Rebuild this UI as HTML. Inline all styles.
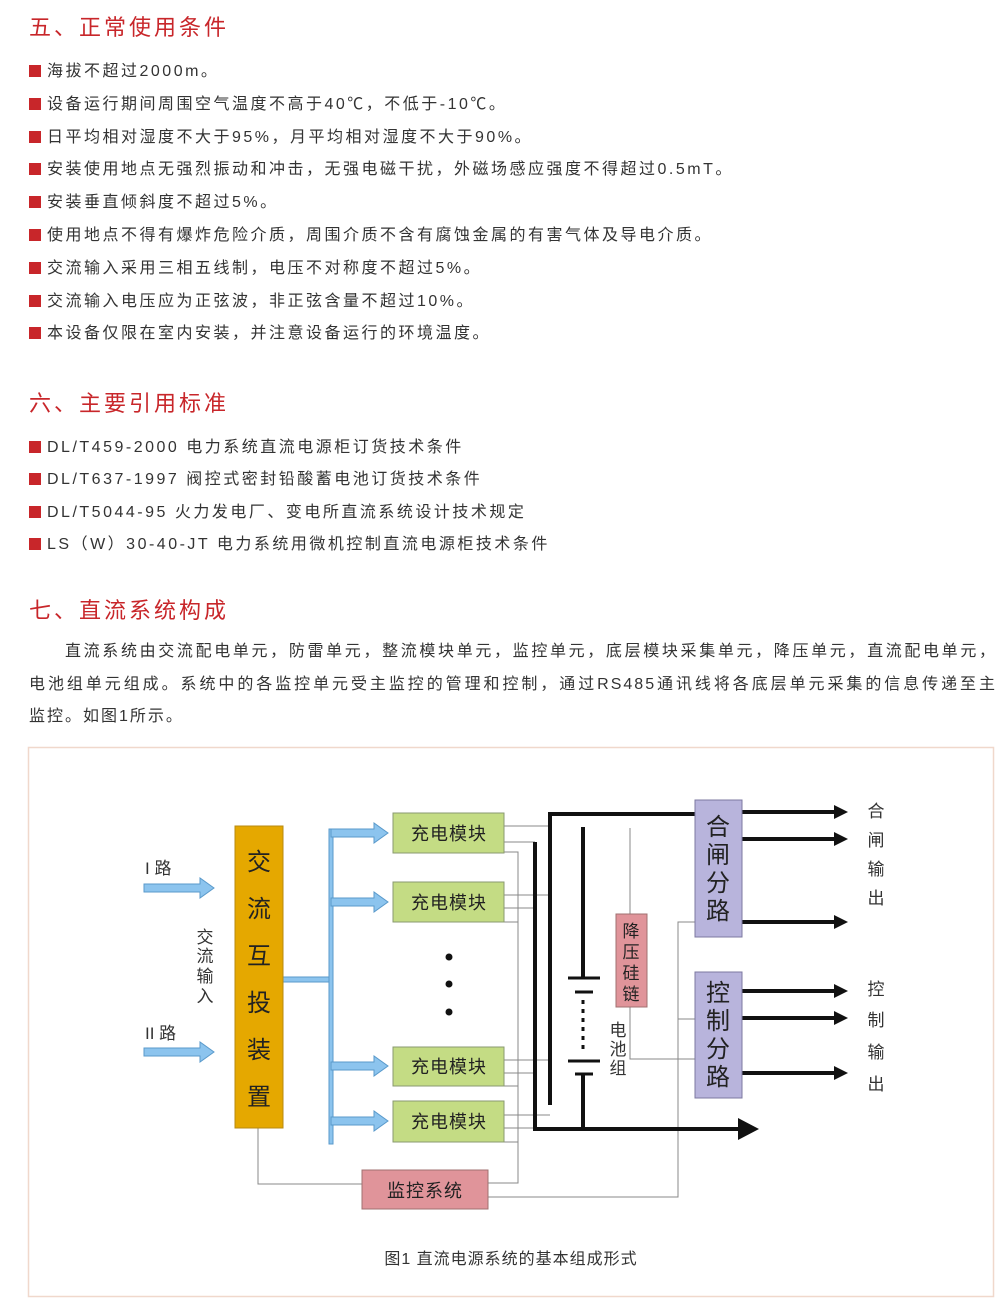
<!DOCTYPE html>
<html><head><meta charset="utf-8"><style>
body{margin:0;width:1000px;height:1306px;background:#fff;position:relative;overflow:hidden;font-family:"Liberation Sans","Noto Sans CJK SC",sans-serif;color:#333}
.h{position:absolute;left:29px;font-size:22px;color:#c8262a;letter-spacing:3px;line-height:26px;white-space:nowrap}
.b{position:absolute;left:29px;font-size:16px;letter-spacing:2.5px;line-height:20px;white-space:nowrap}
.b:before{content:"";display:inline-block;width:12px;height:12px;background:#c8262a;margin-right:6px;vertical-align:-1px}
.p{position:absolute;left:29px;width:968px;font-size:16px;line-height:20px;white-space:nowrap;letter-spacing:2px}
.j{text-align:justify;text-align-last:justify}
svg text{font-family:"Liberation Sans","Noto Sans CJK SC",sans-serif}
</style></head><body>
<div class="h" style="top:15px">五、正常使用条件</div>
<div class="b" style="top:62px">海拔不超过2000m。</div>
<div class="b" style="top:95px">设备运行期间周围空气温度不高于40℃，不低于-10℃。</div>
<div class="b" style="top:128px">日平均相对湿度不大于95%，月平均相对湿度不大于90%。</div>
<div class="b" style="top:160px">安装使用地点无强烈振动和冲击，无强电磁干扰，外磁场感应强度不得超过0.5mT。</div>
<div class="b" style="top:193px">安装垂直倾斜度不超过5%。</div>
<div class="b" style="top:226px">使用地点不得有爆炸危险介质，周围介质不含有腐蚀金属的有害气体及导电介质。</div>
<div class="b" style="top:259px">交流输入采用三相五线制，电压不对称度不超过5%。</div>
<div class="b" style="top:292px">交流输入电压应为正弦波，非正弦含量不超过10%。</div>
<div class="b" style="top:324px">本设备仅限在室内安装，并注意设备运行的环境温度。</div>
<div class="h" style="top:391px">六、主要引用标准</div>
<div class="b" style="top:438px">DL/T459-2000 电力系统直流电源柜订货技术条件</div>
<div class="b" style="top:470px">DL/T637-1997 阀控式密封铅酸蓄电池订货技术条件</div>
<div class="b" style="top:503px">DL/T5044-95 火力发电厂、变电所直流系统设计技术规定</div>
<div class="b" style="top:535px">LS（W）30-40-JT 电力系统用微机控制直流电源柜技术条件</div>
<div class="h" style="top:598px">七、直流系统构成</div>
<div class="p j" style="top:642px;padding-left:36px;width:932px">直流系统由交流配电单元，防雷单元，整流模块单元，监控单元，底层模块采集单元，降压单元，直流配电单元，</div>
<div class="p j" style="top:675px">电池组单元组成。系统中的各监控单元受主监控的管理和控制，通过RS485通讯线将各底层单元采集的信息传递至主</div>
<div class="p" style="top:707px">监控。如图1所示。</div>

<svg style="position:absolute;left:0;top:0" width="1000" height="1306">
<rect x="28.5" y="747.5" width="965" height="549" fill="none" stroke="#f0d8cc" stroke-width="1.5"/>
<g fill="#8cc4ee" stroke="#5a9acb" stroke-width="1">
<path d="M144,884 h56 v-6 l14,10 -14,10 v-6 h-56z"/>
<path d="M144,1048 h56 v-6 l14,10 -14,10 v-6 h-56z"/>
<path d="M283,977 h47 v5 h-47z"/>
<path d="M329,829 h4 v315 h-4z"/>
<path d="M331,829 h43 v-6 l14,10 -14,10 v-6 h-43z"/>
<path d="M331,898 h43 v-6 l14,10 -14,10 v-6 h-43z"/>
<path d="M331,1062 h43 v-6 l14,10 -14,10 v-6 h-43z"/>
<path d="M331,1117 h43 v-6 l14,10 -14,10 v-6 h-43z"/>
</g>
<g fill="none" stroke="#888" stroke-width="1">
<path d="M258,1128 V1184 H362"/>
<path d="M488,1183 H518 V852 H504"/>
<path d="M504,922 H518 M504,1086 H518 M504,1142 H518"/>
<path d="M488,1197 H678 V922 H695 M678,1019 H695"/>
<path d="M504,826 H550 M504,842 H535 M504,895 H550 M504,908 H535 M504,1060 H550 M504,1073 H535 M504,1115 H550 M504,1128 H535"/>
<path d="M630,828 V914 M630,1007 V1059 H695"/>
</g>
<g stroke="#111" fill="none">
<path d="M550,1105 V814 H695" stroke-width="4"/>
<path d="M535,842 V1129 H740" stroke-width="4"/>
<path d="M583,827 V978 M583,1074 V1129" stroke-width="4"/>
<path d="M568,978 H600 M568,1061 H600 M575,992 H593 M575,1074 H593" stroke-width="3"/>
<path d="M583,1000 V1052" stroke-width="3" stroke-dasharray="4,5"/>
<path d="M742,812 H836 M742,839 H836 M742,922 H836 M742,991 H836 M742,1018 H836 M742,1073 H836" stroke-width="4"/>
</g>
<g fill="#111">
<path d="M834,805 L848,812 L834,819z"/>
<path d="M834,832 L848,839 L834,846z"/>
<path d="M834,915 L848,922 L834,929z"/>
<path d="M834,984 L848,991 L834,998z"/>
<path d="M834,1011 L848,1018 L834,1025z"/>
<path d="M834,1066 L848,1073 L834,1080z"/>
<path d="M738,1118 L759,1129 L738,1140z"/>
</g>
<rect x="235" y="826" width="48" height="302" fill="#e5a800" stroke="#b88a10"/>
<g font-size="24" fill="#222" text-anchor="middle">
<text x="259" y="870">交</text><text x="259" y="917">流</text><text x="259" y="964">互</text><text x="259" y="1011">投</text><text x="259" y="1058">装</text><text x="259" y="1105">置</text>
</g>
<g fill="#c4dc84" stroke="#8a9a70">
<rect x="393" y="813" width="111" height="40"/><rect x="393" y="882" width="111" height="40"/>
<rect x="393" y="1047" width="111" height="39"/><rect x="393" y="1101" width="111" height="41"/>
</g>
<g font-size="18" fill="#222" text-anchor="middle" letter-spacing="1">
<text x="449" y="840">充电模块</text><text x="449" y="909">充电模块</text><text x="449" y="1073">充电模块</text><text x="449" y="1128">充电模块</text>
</g>
<circle cx="449" cy="957" r="3.5" fill="#111"/><circle cx="449" cy="984" r="3.5" fill="#111"/><circle cx="449" cy="1012" r="3.5" fill="#111"/>
<rect x="362" y="1170" width="126" height="39" fill="#e0949a" stroke="#a07070"/>
<text x="425" y="1197" font-size="18" fill="#222" text-anchor="middle" letter-spacing="1">监控系统</text>
<rect x="616" y="914" width="31" height="93" fill="#e0949a" stroke="#a07070"/>
<g font-size="17" fill="#222" text-anchor="middle">
<text x="631" y="937">降</text><text x="631" y="958">压</text><text x="631" y="979">硅</text><text x="631" y="1000">链</text>
</g>
<rect x="695" y="800" width="47" height="137" fill="#b8b4dc" stroke="#7c78a0"/>
<rect x="695" y="972" width="47" height="126" fill="#b8b4dc" stroke="#7c78a0"/>
<g font-size="24" fill="#222" text-anchor="middle">
<text x="718" y="835">合</text><text x="718" y="863">闸</text><text x="718" y="891">分</text><text x="718" y="919">路</text>
<text x="718" y="1001">控</text><text x="718" y="1029">制</text><text x="718" y="1057">分</text><text x="718" y="1085">路</text>
</g>
<g font-size="17" fill="#333" text-anchor="middle">
<text x="876" y="817">合</text><text x="876" y="846">闸</text><text x="876" y="875">输</text><text x="876" y="904">出</text>
<text x="876" y="995">控</text><text x="876" y="1026">制</text><text x="876" y="1058">输</text><text x="876" y="1090">出</text>
<text x="618" y="1036">电</text><text x="618" y="1055">池</text><text x="618" y="1074">组</text>
<text x="205" y="943">交</text><text x="205" y="962">流</text><text x="205" y="982">输</text><text x="205" y="1002">入</text>
</g>
<text x="145" y="874" font-size="17" fill="#333">I 路</text>
<text x="145" y="1039" font-size="17" fill="#333">II 路</text>
<text x="511" y="1264" font-size="16" fill="#333" text-anchor="middle" letter-spacing="1">图1  直流电源系统的基本组成形式</text>
</svg>
</body></html>
